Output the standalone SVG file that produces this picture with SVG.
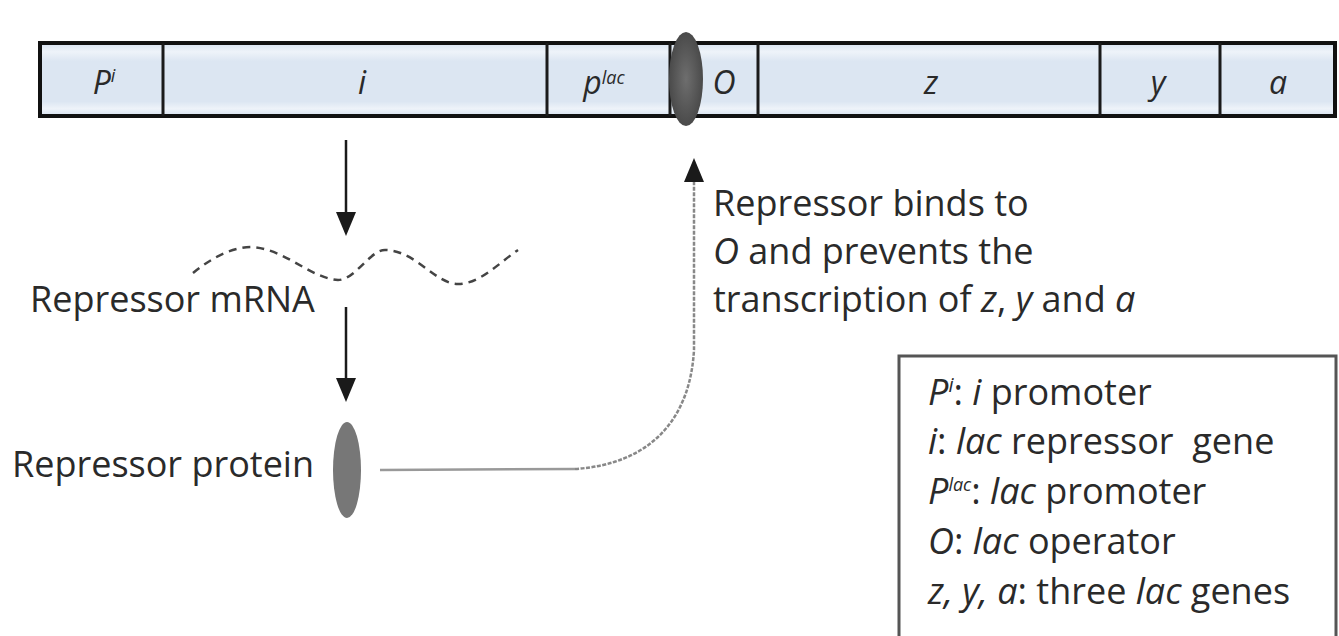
<svg xmlns="http://www.w3.org/2000/svg" width="1339" height="636" viewBox="0 0 1339 636">
  <style>
    text { font-family: "Open Sans", "Noto Sans", "Liberation Sans", sans-serif; fill: #2a2a2a; }
    .lbl { font-size: 36px; }
    .bar { font-size: 32px; font-style: italic; text-anchor: middle; }
    .it { font-style: italic; }
    .div { stroke: #1a1a1a; stroke-width: 3; }
    .arrow { stroke: #1a1a1a; stroke-width: 2.5; fill: none; }
  </style>
  <defs>
    <linearGradient id="barfill" x1="0" y1="0" x2="0" y2="1">
      <stop offset="0" stop-color="#d6e1ef"/>
      <stop offset="0.12" stop-color="#eef3f9"/>
      <stop offset="0.25" stop-color="#dce6f2"/>
      <stop offset="0.8" stop-color="#dce6f2"/>
      <stop offset="0.9" stop-color="#eef3f9"/>
      <stop offset="1" stop-color="#d6e1ef"/>
    </linearGradient>
    <radialGradient id="oval" cx="0.5" cy="0.5" r="0.5">
      <stop offset="0" stop-color="#6e6e6e"/>
      <stop offset="1" stop-color="#4a4a4a"/>
    </radialGradient>
  </defs>

  <g id="dna-bar">
    <rect x="40" y="43" width="1295" height="73" fill="url(#barfill)" stroke="#111" stroke-width="4"/>
    <line class="div" x1="163" y1="43" x2="163" y2="116"/>
    <line class="div" x1="547" y1="43" x2="547" y2="116"/>
    <line class="div" x1="670" y1="43" x2="670" y2="116"/>
    <line class="div" x1="758" y1="43" x2="758" y2="116"/>
    <line class="div" x1="1100" y1="43" x2="1100" y2="116"/>
    <line class="div" x1="1220" y1="43" x2="1220" y2="116"/>
    <text class="bar" x="104" y="94">P<tspan font-size="18" dy="-12">i</tspan></text>
    <text class="bar" x="362" y="94">i</text>
    <text class="bar" x="604" y="94">p<tspan font-size="18" dy="-10">lac</tspan></text>
    <text class="bar" x="724" y="94">O</text>
    <text class="bar" x="931" y="94">z</text>
    <text class="bar" x="1158" y="94">y</text>
    <text class="bar" x="1278" y="94">a</text>
  </g>

  <g id="bound-repressor">
    <ellipse cx="686" cy="79" rx="17" ry="47" fill="url(#oval)"/>
  </g>

  <g id="mrna">
    <path d="M193,273 C215,255 235,247 252,247 C285,249 310,278 338,280 C355,280 370,250 385,250 C415,250 435,284 458,284 C480,284 500,262 518,250" fill="none" stroke="#444" stroke-width="2.5" stroke-dasharray="8 6"/>
    <text class="lbl" x="30" y="312">Repressor mRNA</text>
  </g>

  <g id="protein">
    <ellipse cx="347" cy="470" rx="14" ry="48" fill="#777"/>
    <text class="lbl" x="12" y="477">Repressor protein</text>
  </g>

  <g id="connectors">
    <line class="arrow" x1="346" y1="140" x2="346" y2="215"/>
    <polygon points="336,212 356,212 346,236" fill="#1a1a1a"/>
    <line class="arrow" x1="346" y1="307" x2="346" y2="380"/>
    <polygon points="336,378 356,378 346,402" fill="#1a1a1a"/>
    <path d="M380,470 L575,469" fill="none" stroke="#999" stroke-width="2.5"/>
    <path d="M575,469 C650,464 690,420 694,350 L694,180" fill="none" stroke="#888" stroke-width="2.5" stroke-dasharray="4 1.5"/>
    <polygon points="684,182 704,182 694,158" fill="#1a1a1a"/>
  </g>

  <g id="annotation">
    <text class="lbl" x="713" y="216">Repressor binds to</text>
    <text class="lbl" x="713" y="264"><tspan class="it">O</tspan> and prevents the</text>
    <text class="lbl" x="713" y="312">transcription of <tspan class="it">z</tspan>, <tspan class="it">y</tspan> and <tspan class="it">a</tspan></text>
  </g>

  <g id="legend">
    <rect x="899" y="356" width="437" height="300" fill="#fff" stroke="#555" stroke-width="3"/>
    <text class="lbl" x="928" y="405"><tspan class="it">P</tspan><tspan class="it" font-size="20" dy="-13">i</tspan><tspan dy="13">: </tspan><tspan class="it">i</tspan> promoter</text>
    <text class="lbl" x="928" y="454"><tspan class="it">i</tspan>: <tspan class="it">lac</tspan> repressor&#160; gene</text>
    <text class="lbl" x="928" y="504"><tspan class="it">P</tspan><tspan class="it" font-size="18" dy="-13">lac</tspan><tspan dy="13">: </tspan><tspan class="it">lac</tspan> promoter</text>
    <text class="lbl" x="928" y="554"><tspan class="it">O</tspan>: <tspan class="it">lac</tspan> operator</text>
    <text class="lbl" x="928" y="604"><tspan class="it">z,</tspan> <tspan class="it">y,</tspan> <tspan class="it">a</tspan>: three <tspan class="it">lac</tspan> genes</text>
  </g>
</svg>
